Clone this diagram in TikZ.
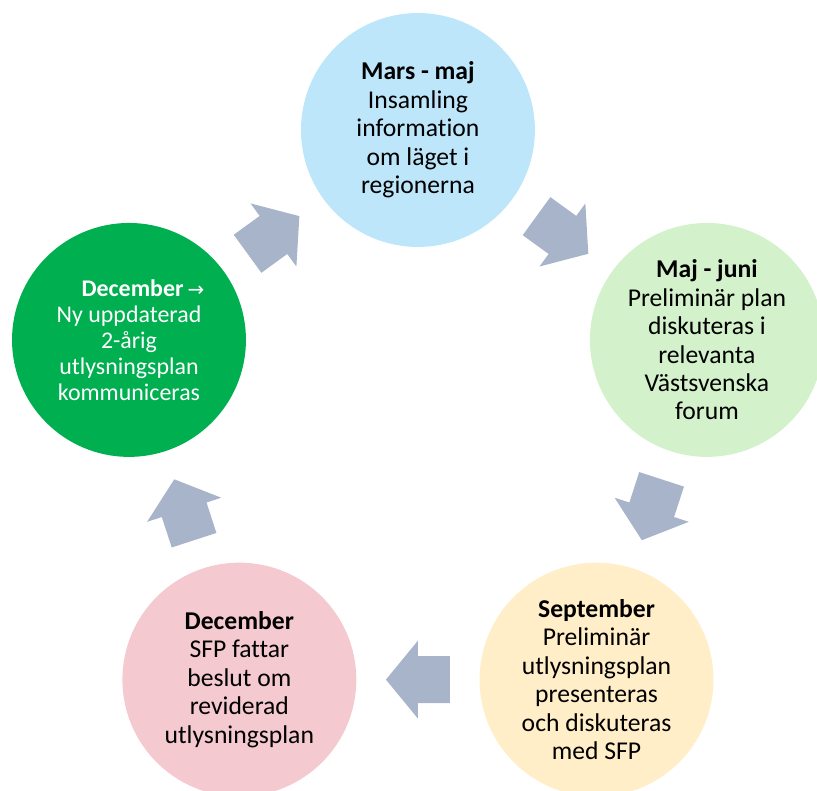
\documentclass[tikz,border=0pt]{standalone}
\usepackage{fontspec}
\setmainfont[Ligatures=NoCommon]{Carlito}
\newfontfamily\arrowfont{DejaVu Sans}
\usetikzlibrary{calc}
\definecolor{marsblue}{HTML}{BDE6FA}
\definecolor{majgreen}{HTML}{D3F1CA}
\definecolor{sepyellow}{HTML}{FFEEC8}
\definecolor{decpink}{HTML}{F4C9D0}
\definecolor{nygreen}{HTML}{00B050}
\definecolor{flowgray}{HTML}{A8B4CA}

\begin{document}
\begin{tikzpicture}[
  stage/.style={circle, minimum size=6.19cm, inner sep=0pt, align=center, font=\fontsize{19.3}{21.4}\selectfont},
  flow/.style={fill=flowgray}
]
\useasboundingbox (-11.06,-9.45) rectangle (10.56,11.48);

\node[stage, fill=marsblue] (mars) at (90:8.04) {\textbf{Mars - maj}\\Insamling\\information\\om läget i\\regionerna};
\node[stage, fill=majgreen] (maj) at (18:8.04) {\textbf{Maj - juni}\\Preliminär plan\\diskuteras i\\relevanta\\Västsvenska\\forum};
\node[stage, fill=sepyellow] (sep) at (-54:8.04) {\textbf{September}\\Preliminär\\utlysningsplan\\presenteras\\och diskuteras\\med SFP};
\node[stage, fill=decpink] (dec) at (234:8.04) {\textbf{December}\\SFP fattar\\beslut om\\reviderad\\utlysningsplan};
\node[stage, fill=nygreen, text=white, font=\fontsize{18}{19.6}\selectfont] (ny) at (162:8.04)
  {\hspace*{0.74cm}\textbf{December}\,{\arrowfont\fontsize{15}{15}\selectfont →}\\Ny uppdaterad\\2-årig\\utlysningsplan\\kommuniceras};

% block arrows between the stages
\foreach \a/\b in {ny/mars, mars/maj, maj/sep, sep/dec, dec/ny} {
  \pgfmathanglebetweenpoints{\pgfpointanchor{\a}{center}}{\pgfpointanchor{\b}{center}}
  \let\dirangle\pgfmathresult
  \begin{scope}[shift={($(\a)!0.5!(\b)$)}, rotate=\dirangle]
    \fill[flow] (-0.847,0.622) -- (0,0.622) -- (0,1.032) -- (0.847,0) -- (0,-1.032) -- (0,-0.622) -- (-0.847,-0.622) -- cycle;
  \end{scope}
}
\end{tikzpicture}
\end{document}
